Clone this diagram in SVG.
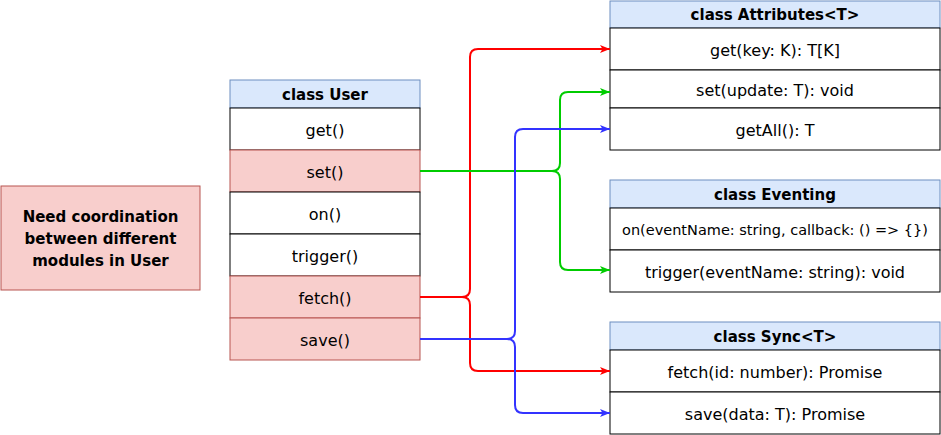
<svg xmlns="http://www.w3.org/2000/svg" width="941" height="435" viewBox="0 0 941 435">
<style>
.hdr{fill:#dae8fc;stroke:#6c8ebf;stroke-width:1}
.row{fill:#ffffff;stroke:#000000;stroke-width:1}
.hot{fill:#f8cecc;stroke:#b85450;stroke-width:1}
text{font-family:"DejaVu Sans","Liberation Sans",sans-serif;font-size:16px;fill:#000;text-anchor:middle;dominant-baseline:central}
.b{font-weight:bold;font-size:15px}
.s{font-size:14.5px}
.c{fill:none;stroke-width:2}
</style>
<defs>
<marker id="ar" viewBox="0 0 10 8" refX="10" refY="4" markerWidth="10" markerHeight="8" markerUnits="userSpaceOnUse" orient="auto"><path d="M0,0 L10,4 L0,8 L2.5,4 z" fill="#FF0000"/></marker>
<marker id="ag" viewBox="0 0 10 8" refX="10" refY="4" markerWidth="10" markerHeight="8" markerUnits="userSpaceOnUse" orient="auto"><path d="M0,0 L10,4 L0,8 L2.5,4 z" fill="#00CC00"/></marker>
<marker id="ab" viewBox="0 0 10 8" refX="10" refY="4" markerWidth="10" markerHeight="8" markerUnits="userSpaceOnUse" orient="auto"><path d="M0,0 L10,4 L0,8 L2.5,4 z" fill="#3333FF"/></marker>
</defs>

<g id="note">
<rect x="1" y="186" width="199" height="104" class="hot"/>
<text x="100.5" y="217" class="b">Need coordination</text>
<text x="100.5" y="239" class="b">between different</text>
<text x="100.5" y="261" class="b">modules in User</text>
</g>

<g id="user">
<rect x="230" y="80" width="190" height="28" class="hdr"/>
<text x="325" y="95" class="b">class User</text>
<rect x="230" y="108" width="190" height="42" class="row"/>
<text x="325" y="130">get()</text>
<rect x="230" y="150" width="190" height="42" class="hot"/>
<text x="325" y="172">set()</text>
<rect x="230" y="192" width="190" height="42" class="row"/>
<text x="325" y="214">on()</text>
<rect x="230" y="234" width="190" height="42" class="row"/>
<text x="325" y="256">trigger()</text>
<rect x="230" y="276" width="190" height="42" class="hot"/>
<text x="325" y="298">fetch()</text>
<rect x="230" y="318" width="190" height="42" class="hot"/>
<text x="325" y="340">save()</text>
</g>

<g id="attributes">
<rect x="610" y="1" width="330" height="27" class="hdr"/>
<text x="775" y="15" class="b">class Attributes&lt;T&gt;</text>
<rect x="610" y="28" width="330" height="42" class="row"/>
<text x="775" y="50">get(key: K): T[K]</text>
<rect x="610" y="70" width="330" height="38" class="row"/>
<text x="775" y="90">set(update: T): void</text>
<rect x="610" y="108" width="330" height="42" class="row"/>
<text x="775" y="130">getAll(): T</text>
</g>

<g id="eventing">
<rect x="610" y="180" width="330" height="28" class="hdr"/>
<text x="775" y="195" class="b">class Eventing</text>
<rect x="610" y="208" width="330" height="42" class="row"/>
<text x="775" y="230" class="s">on(eventName: string, callback: () =&gt; {})</text>
<rect x="610" y="250" width="330" height="42" class="row"/>
<text x="775" y="272">trigger(eventName: string): void</text>
</g>

<g id="sync">
<rect x="610" y="322" width="330" height="28" class="hdr"/>
<text x="775" y="337" class="b">class Sync&lt;T&gt;</text>
<rect x="610" y="350" width="330" height="42" class="row"/>
<text x="775" y="372">fetch(id: number): Promise</text>
<rect x="610" y="392" width="330" height="42" class="row"/>
<text x="775" y="414">save(data: T): Promise</text>
</g>

<g id="connectors">
<path class="c" stroke="#FF0000" marker-end="url(#ar)" d="M420,297 H462 Q470,297 470,289 V57 Q470,49 478,49 H610"/>
<path class="c" stroke="#FF0000" marker-end="url(#ar)" d="M420,297 H462 Q470,297 470,305 V363 Q470,371 478,371 H610"/>
<path class="c" stroke="#00CC00" marker-end="url(#ag)" d="M420,171 H552 Q560,171 560,163 V100 Q560,92 568,92 H610"/>
<path class="c" stroke="#00CC00" marker-end="url(#ag)" d="M420,171 H552 Q560,171 560,179 V262 Q560,270 568,270 H610"/>
<path class="c" stroke="#3333FF" marker-end="url(#ab)" d="M420,339 H507 Q515,339 515,331 V137 Q515,129 523,129 H610"/>
<path class="c" stroke="#3333FF" marker-end="url(#ab)" d="M420,339 H507 Q515,339 515,347 V405 Q515,413 523,413 H610"/>
</g>
</svg>
